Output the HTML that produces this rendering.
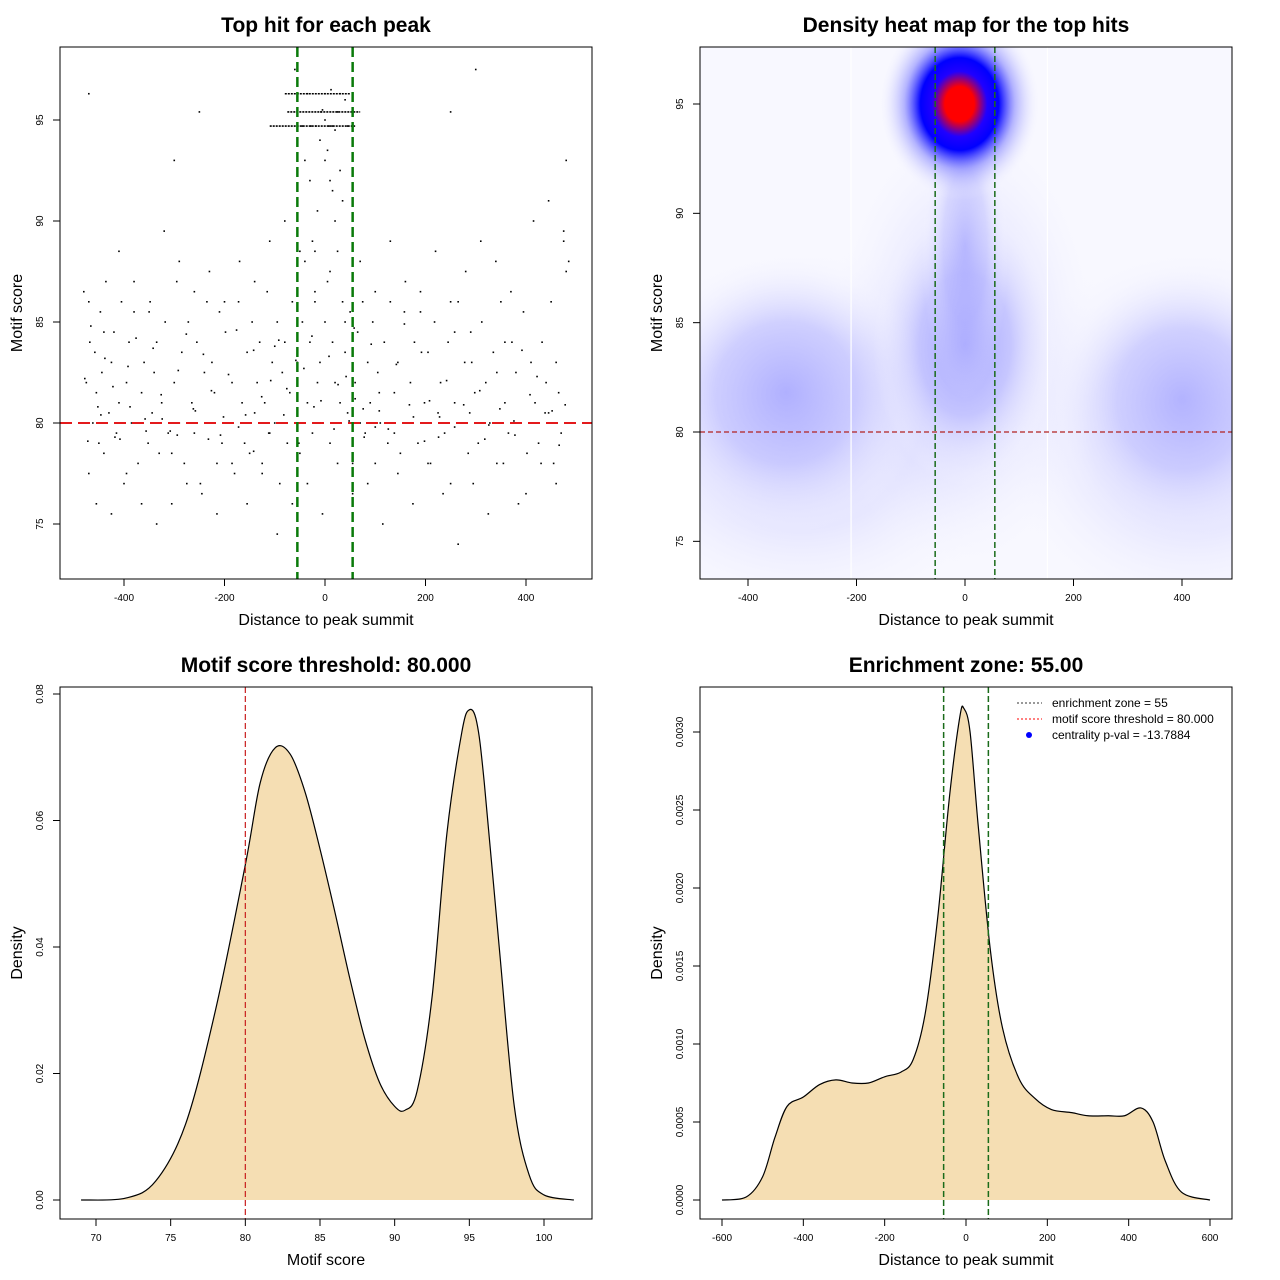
<!DOCTYPE html>
<html><head><meta charset="utf-8">
<style>
body{margin:0;background:#fff;}
svg{display:block;font-family:"Liberation Sans",sans-serif;}
</style></head>
<body>
<svg id="s" width="1280" height="1280" viewBox="0 0 1280 1280" xmlns="http://www.w3.org/2000/svg">
<defs>
<radialGradient id="gMain">
<stop offset="0" stop-color="#ff0000"/>
<stop offset="0.18" stop-color="#ff0000"/>
<stop offset="0.34" stop-color="#2000ff"/>
<stop offset="0.48" stop-color="#0000ff"/>
<stop offset="0.68" stop-color="#6060ff" stop-opacity="0.45"/>
<stop offset="1" stop-color="#ffffff" stop-opacity="0"/>
</radialGradient>
<radialGradient id="gSoft">
<stop offset="0" stop-color="#9c9cff" stop-opacity="1"/>
<stop offset="0.5" stop-color="#b4b4ff" stop-opacity="0.7"/>
<stop offset="1" stop-color="#ffffff" stop-opacity="0"/>
</radialGradient>
<clipPath id="clip2"><rect x="700" y="47" width="532" height="532"/></clipPath>
</defs>
</svg>
<script>
// ---------- Panel 1 data (scatter) ----------
const scatterX = [-480,-475,-470,-468,-462,-458,-455,-450,-447,-444,-440,-436,-430,-425,-420,-415,-410,-405,-400,-395,-390,-385,-380,-372,-365,-360,-352,-348,-344,-340,-335,-330,-325,-318,-312,-305,-300,-295,-290,-285,-280,-272,-265,-260,-255,-248,-240,-235,-230,-225,-220,-215,-210,-205,-198,-190,-185,-180,-172,-165,-160,-155,-150,-145,-140,-135,-130,-125,-120,-115,-110,-105,-100,-95,-90,-85,-80,-75,-70,-65,-60,-55,-50,-45,-40,-35,-30,-25,-20,-15,-10,-5,0,5,10,15,20,25,30,35,40,45,50,55,60,65,70,75,80,85,90,95,100,105,110,118,125,130,138,145,150,158,165,170,178,185,190,198,205,210,218,225,230,238,245,250,258,265,270,278,285,290,298,305,312,320,328,335,342,350,358,365,372,380,388,395,402,410,418,425,432,440,445,450,455,460,465,470,475,480,485,-470,-440,-410,-380,-350,-320,-290,-260,-230,-200,-170,-140,-110,-80,-50,-20,10,40,70,100,130,160,190,220,250,280,310,340,370,400,430,460,-455,-425,-395,-365,-335,-305,-275,-245,-215,-185,-155,-125,-95,-65,-35,-5,25,55,85,115,145,175,205,235,265,295,325,355,385,415,445,475,-30,-15,0,15,30,-25,5,20,-10,10,35,-40,-20,0,20,40,-5,12,-18,25,-35,8,-8,30,-28,15,0,-45,45,-470,-250,250,480,-300,300,-60,60,-100,100,
-478,-466,-452,-438,-422,-408,-392,-376,-358,-342,-326,-308,-292,-276,-258,-242,-226,-208,-192,-176,-158,-142,-126,-108,-92,-76,-58,-42,-26,-8,8,26,42,58,76,92,108,126,142,158,176,192,208,226,242,258,276,292,308,326,342,358,376,392,408,422,438,452,466,478,
-472,-446,-418,-388,-356,-324,-294,-262,-232,-202,-172,-142,-112,-82,-52,-22,18,48,78,108,138,168,198,228,258,288,318,348,378,408,438,468];
const scatterY = [86.5,82,77.5,84,80,83.5,81.5,79,85.5,82.5,78.5,87,80.5,83,84.5,79.5,81,86,77,82,84,80,85.5,78,81.5,83,79,86,80.5,82.5,84,78.5,81,85,79.5,76,82,87,80,83.5,78,85,81,79.5,84,77,82.5,86,80,83,81.5,78,85.5,79,84.5,80,82,77.5,86,81,79,83.5,78.5,85,80.5,82,84,78,81,86.5,79.5,83,80,85,77,82.5,84,79,81.5,86,80,83,78.5,85,88,81,84,79.5,86.5,82,83,80,85,87,79,84,82,88.5,81,86,83.5,80.5,85.5,78,82,84.5,80,86,79.5,83,81,85,78,82.5,80,84,79,86,81.5,83,78.5,85.5,80,82,84,79,86.5,81,83.5,78,85,80.5,82,79.5,84,77,81,86,80,83,78.5,84.5,81.5,79,85,82,80,83.5,78,86,81,79.5,84,82.5,80,85.5,78.5,83,81,79,84,82,80.5,86,78,83,81.5,79.5,89,87.5,88,86,84.5,88.5,87,85.5,89.5,88,86.5,87.5,86,88,87,89,90,88.5,86,87.5,85,88,86.5,89,87,85.5,88.5,86,87.5,89,88,86.5,76.5,78,77,76,75.5,77.5,76,75,78.5,77,76.5,75.5,78,76,77.5,74.5,76,77,75.5,78,76.5,77,75,77.5,76,78,76.5,74,77,75.5,78,76,90,91,89.5,92,90.5,93,91.5,92.5,89,93.5,90,94,92,91,93,88.5,95,94.5,96,95.5,96.5,94.7,95.4,96.3,94.7,95.4,96.3,94.7,94.7,96.3,94.7,94.7,96.3,95.4,95.4,93,93,97.5,97.5,
81.2,83.8,79.8,82.2,84.8,80.8,83.2,81.8,79.2,82.8,84.2,80.2,83.7,81.4,79.6,82.6,84.4,80.6,83.4,81.6,79.4,82.4,84.6,80.4,83.6,81.3,82.1,84.1,81.7,83.1,82.7,84.3,81.1,83.3,81.9,82.3,84.7,80.7,83.9,81.5,79.7,82.9,84.9,80.3,83.5,81.1,79.3,82.1,84.5,80.9,83.0,81.6,79.9,82.5,84.0,80.1,83.6,81.4,82.3,80.5,
80.6,78.9,80.9,79.1,80.4,79.3,80.8,79.6,80.2,79.4,80.7,79.2,80.3,79.8,78.6,79.5,80.4,79.0,80.8,79.7,80.1,79.3,80.6,79.5,80.9,79.1,80.3,79.8,80.5,79.2,80.7,79.4];
const bandY = [96.3,95.4,94.7];
const bandX0 = [-80,-75,-110];
const bandX1 = [50,70,60];
// ---------- Panel 2 data (density blobs) ----------
const blobX = [-300,0,420,-330,0,400,0,-10];
const blobY = [80,84,80,81.8,84,81.5,88.5,95];
const blobRx = [420,260,380,260,170,240,80,150];
const blobRy = [9,11,9,6.5,6.5,6.5,7,4.4];
const blobOp = [0.35,0.3,0.35,0.7,0.9,0.65,0.6,1];
// ---------- Panel 3 data (motif score density) ----------
const scoreX = [69,72,74,76,78,80,81,82,83,84,85,86,87,88,89,90,90.7,91.5,92.5,93.5,94.5,95,95.5,96,97,98,99,100,102];
const scoreD = [0,0.0003,0.003,0.012,0.03,0.053,0.066,0.0715,0.0705,0.0645,0.0555,0.0455,0.035,0.0255,0.0185,0.0148,0.0142,0.0172,0.032,0.058,0.074,0.0775,0.0755,0.066,0.040,0.015,0.004,0.0008,0];
// ---------- Panel 4 data (distance density) ----------
const distX = [-600,-540,-500,-470,-440,-400,-360,-320,-280,-240,-200,-160,-130,-100,-70,-40,-15,-5,10,30,60,90,130,170,210,260,300,350,390,430,460,490,530,600];
const distD = [0,0.00002,0.00015,0.0004,0.0006,0.00066,0.00074,0.00077,0.00075,0.00075,0.00079,0.00082,0.0009,0.0012,0.0018,0.0026,0.0031,0.00315,0.003,0.0024,0.0016,0.0011,0.00078,0.00065,0.00058,0.00056,0.00054,0.00054,0.00054,0.00059,0.0005,0.00025,0.00005,0];
const p1XTicks=[-400,-200,0,200,400], p1YTicks=[75,80,85,90,95];
const p2XTicks=[-400,-200,0,200,400], p2YTicks=[75,80,85,90,95];
const p3XTicks=[70,75,80,85,90,95,100], p3YTicks=[0,0.02,0.04,0.06,0.08];
const p3YLabels=["0.00","0.02","0.04","0.06","0.08"];
const p4XTicks=[-600,-400,-200,0,200,400,600], p4YTicks=[0,0.0005,0.001,0.0015,0.002,0.0025,0.003];
const p4YLabels=["0.0000","0.0005","0.0010","0.0015","0.0020","0.0025","0.0030"];

const svg=document.getElementById('s');
const NS='http://www.w3.org/2000/svg';
function mk(tag,attrs,parent){const e=document.createElementNS(NS,tag);for(const k in attrs)e.setAttribute(k,attrs[k]);(parent||svg).appendChild(e);return e;}
function txt(x,y,s,size,opts,parent){const e=mk('text',Object.assign({x:x,y:y,'font-size':size,'text-anchor':'middle',fill:'#000'},opts||{}),parent);e.textContent=s;return e;}
function lin(d0,d1,r0,r1){return v=>r0+(v-d0)*(r1-r0)/(d1-d0);}
function smooth(pts){let d='M'+pts[0][0]+','+pts[0][1];for(let i=0;i<pts.length-1;i++){const p0=pts[Math.max(0,i-1)],p1=pts[i],p2=pts[i+1],p3=pts[Math.min(pts.length-1,i+2)];const c1x=p1[0]+(p2[0]-p0[0])/6,c1y=p1[1]+(p2[1]-p0[1])/6,c2x=p2[0]-(p3[0]-p1[0])/6,c2y=p2[1]-(p3[1]-p1[1])/6;d+=` C${c1x},${c1y} ${c2x},${c2y} ${p2[0]},${p2[1]}`;}return d;}

function axes(name,box,xs,ys,xt,yt,xl,yl,title,xlab,ylab){
  const g=mk('g',{});
  
  
  const t=txt((box[0]+box[2])/2,box[1]-15,title,21,{'font-weight':'bold'},g);
  
  
  const b=box[3];
  const xg=mk('g',{},g);
  
  
  mk('line',{x1:xs(xt[0]),x2:xs(xt[xt.length-1]),y1:b,y2:b,stroke:'#000'},xg);
  xt.forEach((v,i)=>{mk('line',{x1:xs(v),x2:xs(v),y1:b,y2:b+7,stroke:'#000'},xg);txt(xs(v),b+22,xl?xl[i]:String(v),10,{},xg);});
  const ya=mk('g',{},g);
  
  
  const l=box[0];
  mk('line',{x1:l,x2:l,y1:ys(yt[0]),y2:ys(yt[yt.length-1]),stroke:'#000'},ya);
  yt.forEach((v,i)=>{const y=ys(v);mk('line',{x1:l,x2:l-7,y1:y,y2:y,stroke:'#000'},ya);txt(l-17,y,yl?yl[i]:String(v),10,{transform:`rotate(-90 ${l-17} ${y})`},ya);});
  const xlt=txt((box[0]+box[2])/2,b+46,xlab,16,{},g);
  
  
  const yx=box[0]-38,yy=(box[1]+box[3])/2;
  const ylt=txt(yx,yy,ylab,16,{transform:`rotate(-90 ${yx} ${yy})`},g);
  
  
  const r=mk('rect',{x:box[0],y:box[1],width:box[2]-box[0],height:box[3]-box[1],fill:'none',stroke:'#000'},g);
  
  
}

// ---------- Panel 1 ----------
{
  const xs=lin(0,400,325,526), ys=lin(80,95,423,120);
  const g=mk('g',{});
  
  
  for(let i=0;i<Math.min(scatterX.length,scatterY.length);i++){mk('rect',{x:xs(scatterX[i])-0.8,y:ys(scatterY[i])-0.8,width:1.6,height:1.6,fill:'#000'},g);}
  bandY.forEach((v,i)=>{const b=mk('line',{x1:xs(bandX0[i]),x2:xs(bandX1[i]),y1:ys(v),y2:ys(v),stroke:'#000','stroke-width':1.6,'stroke-dasharray':'2 1'},g);});
  const h=mk('line',{x1:60,x2:592,y1:ys(80),y2:ys(80),stroke:'#e31a1c','stroke-width':2,'stroke-dasharray':'12 6'});
  
  [-55,55].forEach(v=>{const l=mk('line',{x1:xs(v),x2:xs(v),y1:47,y2:579,stroke:'#0a7a0a','stroke-width':2.5,'stroke-dasharray':'10 5'});});
  axes('scatter',[60,47,592,579],xs,ys,p1XTicks,p1YTicks,null,null,'Top hit for each peak','Distance to peak summit','Motif score');
}
// ---------- Panel 2 ----------
{
  const xs=lin(0,400,965,1182), ys=lin(80,95,432,104);
  const g=mk('g',{'clip-path':'url(#clip2)'});
  
  
  mk('rect',{x:700,y:47,width:532,height:532,fill:'#f8f8ff'},g);
  for(let i=0;i<blobX.length;i++){
    const e=mk('ellipse',{cx:xs(blobX[i]),cy:ys(blobY[i]),rx:xs(blobRx[i])-xs(0),ry:ys(0)-ys(blobRy[i]),fill:i===blobX.length-1?'url(#gMain)':'url(#gSoft)',opacity:blobOp[i]},g);
    
    
  }
  [-210,152].forEach(v=>mk('line',{x1:xs(v),x2:xs(v),y1:47,y2:579,stroke:'#fff','stroke-width':1.2},g));
  const h=mk('line',{x1:700,x2:1232,y1:ys(80),y2:ys(80),stroke:'#b22222','stroke-width':1.2,'stroke-dasharray':'5 3'});
  
  [-55,55].forEach(v=>{const l=mk('line',{x1:xs(v),x2:xs(v),y1:47,y2:579,stroke:'#1a6b1a','stroke-width':1.5,'stroke-dasharray':'6 3'});});
  axes('heatmap',[700,47,1232,579],xs,ys,p2XTicks,p2YTicks,null,null,'Density heat map for the top hits','Distance to peak summit','Motif score');
}
// ---------- Panel 3 ----------
{
  const xs=lin(70,100,96,544), ys=lin(0,0.02,1200,1073.5);
  const pts=scoreX.map((v,i)=>[xs(v),ys(scoreD[i])]);
  const d=smooth(pts);
  const a=mk('path',{d:d+` L${pts[pts.length-1][0]},${ys(0)} L${pts[0][0]},${ys(0)} Z`,fill:'#f5deb3',stroke:'none'});
  
  const c=mk('path',{d:d,fill:'none',stroke:'#000','stroke-width':1.2});
  
  const r=mk('line',{x1:xs(80),x2:xs(80),y1:687,y2:1219,stroke:'#c81e1e','stroke-width':1.2,'stroke-dasharray':'6 3'});
  
  axes('score-density',[60,687,592,1219],xs,ys,p3XTicks,p3YTicks,null,p3YLabels,'Motif score threshold: 80.000','Motif score','Density');
}
// ---------- Panel 4 ----------
{
  const xs=lin(0,600,966,1210), ys=lin(0,0.0005,1200,1122);
  const pts=distX.map((v,i)=>[xs(v),ys(distD[i])]);
  const d=smooth(pts);
  const a=mk('path',{d:d+` L${pts[pts.length-1][0]},${ys(0)} L${pts[0][0]},${ys(0)} Z`,fill:'#f5deb3',stroke:'none'});
  
  const c=mk('path',{d:d,fill:'none',stroke:'#000','stroke-width':1.2});
  
  [-55,55].forEach(v=>{const l=mk('line',{x1:xs(v),x2:xs(v),y1:687,y2:1219,stroke:'#1a6b1a','stroke-width':1.5,'stroke-dasharray':'6 3'});});
  axes('distance-density',[700,687,1232,1219],xs,ys,p4XTicks,p4YTicks,null,p4YLabels,'Enrichment zone: 55.00','Distance to peak summit','Density');
  const lg=mk('g',{});
  
  
  mk('line',{x1:1017,x2:1042,y1:703,y2:703,stroke:'#333','stroke-dasharray':'2 2'},lg);
  mk('line',{x1:1017,x2:1042,y1:719,y2:719,stroke:'#f00','stroke-dasharray':'2 2'},lg);
  mk('circle',{cx:1029,cy:735,r:3,fill:'#00f'},lg);
  const L=["enrichment zone = 55","motif score threshold = 80.000","centrality p-val = -13.7884"];
  L.forEach((s,i)=>{const t=txt(1052,707+16*i,s,12,{'text-anchor':'start'},lg);});
}
</script>
</body></html>
